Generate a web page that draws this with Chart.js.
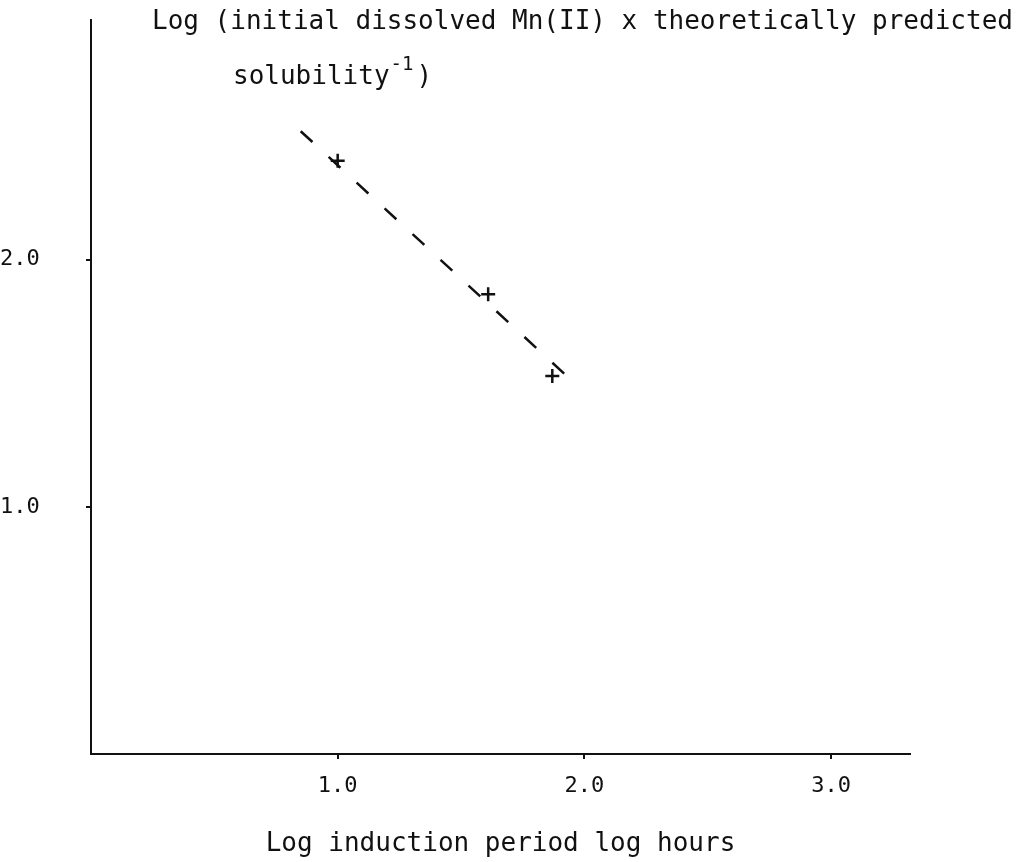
<!DOCTYPE html>
<html>
<head>
<meta charset="utf-8">
<script src="https://cdn.jsdelivr.net/npm/chart.js@4/dist/chart.umd.min.js"></script>
<style>
  html, body { margin: 0; padding: 0; background: #fff; }
</style>
</head>
<body>
<canvas id="chart" width="1020" height="862"></canvas>
<script>
// measured runs: log induction period (h) against log supersaturation ratio
const logInduction = [1.0, 1.61, 1.87];
const logRatio     = [2.40, 1.86, 1.53];

// ends of the fitted line
const fitX = [0.85, 1.95];
const fitY = [2.52, 1.51];

const xTicks = [1, 2, 3];
const yTicks = [1, 2];

const INK  = '#111';
const MONO = '"DejaVu Sans Mono", monospace';

// the y-axis caption sits horizontally above the plot, on two lines
const topCaption = {
    id: 'topCaption',
    afterDraw(chart) {
        const ctx = chart.ctx;
        ctx.save();
        ctx.fillStyle = INK;
        ctx.textBaseline = 'alphabetic';
        ctx.font = '26px ' + MONO;
        ctx.fillText('Log (initial dissolved Mn(II) x theoretically predicted', 152, 29);
        ctx.fillText('solubility', 233, 84);
        let w = ctx.measureText('solubility').width;
        ctx.font = '19px ' + MONO;
        ctx.fillText('-1', 233 + w + 1, 70);
        let w2 = ctx.measureText('-1').width;
        ctx.font = '26px ' + MONO;
        ctx.fillText(')', 233 + w + w2 + 4, 84);
        ctx.restore();
    }
};

const axisLook = {
    grid: { display: true, drawOnChartArea: false, drawTicks: true, tickLength: 5, color: INK, lineWidth: 2 },
    border: { display: true, color: INK, width: 2 }
};

new Chart(document.getElementById('chart'), {
    type: 'scatter',
    data: {
        datasets: [
            {
                data: fitX.map((x, i) => ({ x, y: fitY[i] })),
                showLine: true,
                borderColor: INK,
                borderWidth: 2.5,
                borderDash: [16, 22],
                pointRadius: 0
            },
            {
                data: logInduction.map((x, i) => ({ x, y: logRatio[i] })),
                pointStyle: 'cross',
                pointRadius: 7,
                rotation: 0,
                borderColor: INK,
                borderWidth: 2.5
            }
        ]
    },
    options: {
        responsive: false,
        devicePixelRatio: 1,
        animation: false,
        layout: { padding: { top: 20, right: 110, left: 0, bottom: 0 } },
        plugins: { legend: { display: false }, tooltip: { enabled: false } },
        scales: {
            x: {
                type: 'linear',
                min: 0,
                max: 3.32,
                afterBuildTicks: s => { s.ticks = xTicks.map(v => ({ value: v })); },
                afterFit: s => { s.height = 108; },
                ticks: {
                    padding: 14,
                    color: INK,
                    font: { family: MONO, size: 22 },
                    callback: v => v.toFixed(1)
                },
                title: {
                    display: true,
                    text: 'Log induction period log hours',
                    color: INK,
                    font: { family: MONO, size: 26 },
                    padding: { top: 0, bottom: 2 }
                },
                ...axisLook
            },
            y: {
                type: 'linear',
                min: 0,
                max: 2.97,
                afterBuildTicks: s => { s.ticks = yTicks.map(v => ({ value: v })); },
                afterFit: s => { s.width = 91; },
                ticks: {
                    padding: 4,
                    crossAlign: 'far',
                    color: INK,
                    font: { family: MONO, size: 22 },
                    callback: v => v.toFixed(1)
                },
                ...axisLook
            }
        }
    },
    plugins: [topCaption]
});
</script>
</body>
</html>
